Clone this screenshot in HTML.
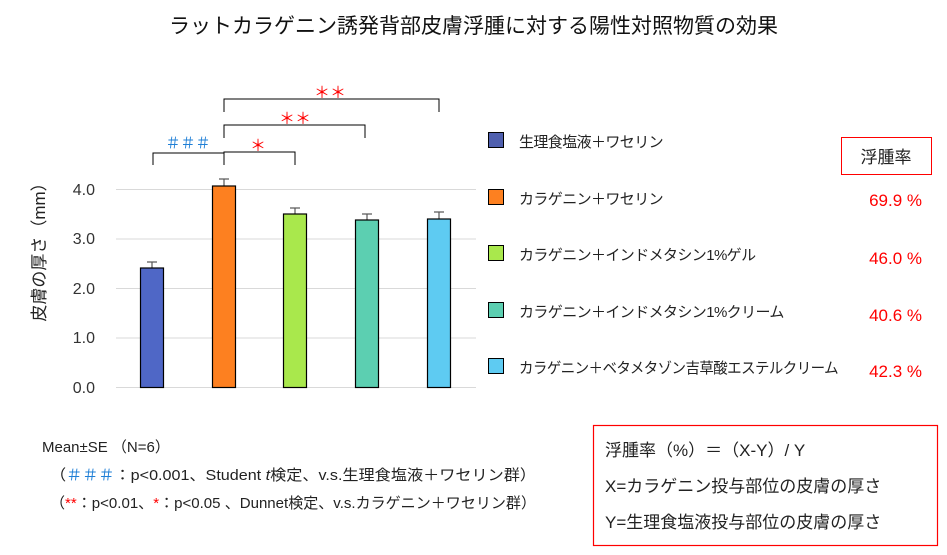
<!DOCTYPE html>
<html><head><meta charset="utf-8"><style>
body{margin:0;width:947px;height:555px;background:#fff;overflow:hidden;position:relative;font-family:"Liberation Sans","Noto Sans CJK JP",sans-serif;color:#222}
.a{position:absolute;white-space:nowrap}
</style></head><body>
<div class="a" style="left:0;width:947px;top:10px;text-align:center;font-size:21px;color:#111">ラットカラゲニン誘発背部皮膚浮腫に対する陽性対照物質の効果</div>
<svg class="a" style="left:0;top:0" width="947" height="555" font-family="Liberation Sans, Noto Sans CJK JP, sans-serif">
<g stroke="#d9d9d9" stroke-width="1">
<line x1="116" x2="476" y1="387.5" y2="387.5"/><line x1="116" x2="476" y1="338" y2="338"/><line x1="116" x2="476" y1="288.5" y2="288.5"/><line x1="116" x2="476" y1="239" y2="239"/><line x1="116" x2="476" y1="189.5" y2="189.5"/>
</g>
<g font-size="16" fill="#333" text-anchor="end">
<text x="95" y="393">0.0</text><text x="95" y="343">1.0</text><text x="95" y="294">2.0</text><text x="95" y="244">3.0</text><text x="95" y="195">4.0</text>
</g>
<text transform="translate(45,248) rotate(-90)" font-size="17" fill="#222" text-anchor="middle">皮膚の厚さ（mm）</text>
<g stroke="#555" stroke-width="1.2">
<line x1="152" x2="152" y1="262" y2="268"/><line x1="147" x2="157" y1="262" y2="262"/>
<line x1="224" x2="224" y1="179" y2="186"/><line x1="219" x2="229" y1="179" y2="179"/>
<line x1="295" x2="295" y1="208" y2="214"/><line x1="290" x2="300" y1="208" y2="208"/>
<line x1="367" x2="367" y1="214" y2="220"/><line x1="362" x2="372" y1="214" y2="214"/>
<line x1="439" x2="439" y1="212" y2="219"/><line x1="434" x2="444" y1="212" y2="212"/>
</g>
<g stroke="#000" stroke-width="1.2">
<rect x="140.5" y="268" width="23" height="119.5" fill="#4f67c6"/>
<rect x="212.5" y="186" width="23" height="201.5" fill="#fd8020"/>
<rect x="283.5" y="214" width="23" height="173.5" fill="#a9e84c"/>
<rect x="355.5" y="220" width="23" height="167.5" fill="#5ccfb1"/>
<rect x="427.5" y="219" width="23" height="168.5" fill="#5ecbf2"/>
</g>
<g fill="none" stroke="#000" stroke-width="1">
<path d="M153,165 V153 H224 V165"/><path d="M224,165 V152 H295 V165"/>
<path d="M224,138 V125 H365 V138"/><path d="M224,112 V99 H439 V112"/>
</g>
<text x="188" y="148" font-size="15" fill="#1f7fd6" text-anchor="middle">＃＃＃</text>
<text x="258" y="151" font-size="16" fill="#f00" text-anchor="middle">＊</text>
<text x="295" y="124" font-size="16" fill="#f00" text-anchor="middle">＊＊</text>
<text x="330" y="98" font-size="16" fill="#f00" text-anchor="middle">＊＊</text>
<g stroke="#000" stroke-width="1">
<rect x="488.5" y="132.5" width="15" height="15" fill="#4f5fae"/>
<rect x="488.5" y="189.5" width="15" height="15" fill="#fd8020"/>
<rect x="488.5" y="245.5" width="15" height="15" fill="#a9e84c"/>
<rect x="488.5" y="302.5" width="15" height="15" fill="#5ccfb1"/>
<rect x="488.5" y="358.5" width="15" height="15" fill="#5ecbf2"/>
</g>
<g font-size="15" fill="#222" letter-spacing="-0.6">
<text x="519" y="147">生理食塩液＋ワセリン</text>
<text x="519" y="204">カラゲニン＋ワセリン</text>
<text x="519" y="260">カラゲニン＋インドメタシン1%ゲル</text>
<text x="519" y="317">カラゲニン＋インドメタシン1%クリーム</text>
<text x="519" y="373" textLength="319" lengthAdjust="spacingAndGlyphs">カラゲニン＋ベタメタゾン吉草酸エステルクリーム</text>
</g>
<rect x="841.5" y="137.5" width="90" height="37" fill="none" stroke="#f00" stroke-width="1"/>
<text x="886" y="163" font-size="17" fill="#222" text-anchor="middle">浮腫率</text>
<g font-size="17" fill="#f00" text-anchor="end">
<text x="922" y="206">69.9 %</text><text x="922" y="264">46.0 %</text><text x="922" y="321">40.6 %</text><text x="922" y="377">42.3 %</text>
</g>
<rect x="593.5" y="425.5" width="344" height="120" fill="none" stroke="#ff0000" stroke-width="1.2"/>
<g font-size="17" fill="#222">
<text x="605" y="456">浮腫率（%）＝（X-Y）/ Y</text>
<text x="605" y="492">X=カラゲニン投与部位の皮膚の厚さ</text>
<text x="605" y="528">Y=生理食塩液投与部位の皮膚の厚さ</text>
</g>
<g font-size="15" fill="#222">
<text x="42" y="452">Mean±SE （N=6）</text>
<text x="50" y="480" textLength="486" lengthAdjust="spacingAndGlyphs">（<tspan fill="#1f7fd6">＃＃＃</tspan>：p&lt;0.001、Student <tspan font-style="italic">t</tspan>検定、v.s.生理食塩液＋ワセリン群）</text>
<text x="50" y="508" textLength="486" lengthAdjust="spacingAndGlyphs">（<tspan fill="#f00">**</tspan>：p&lt;0.01、<tspan fill="#f00">*</tspan>：p&lt;0.05 、Dunnet検定、v.s.カラゲニン＋ワセリン群）</text>
</g>
</svg>
</body></html>
